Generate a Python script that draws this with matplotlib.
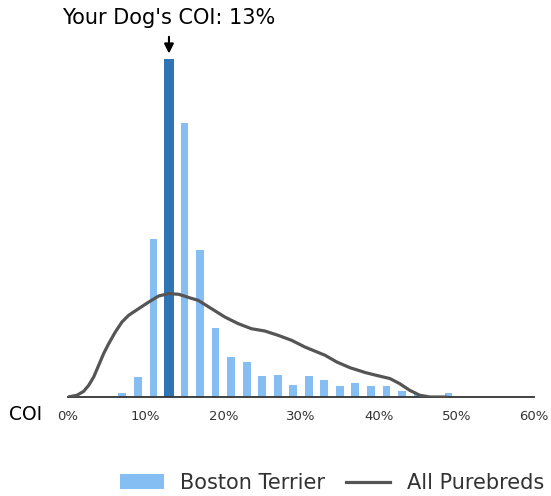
import numpy as np
import matplotlib
matplotlib.use("Agg")
import matplotlib.pyplot as plt
from matplotlib.patches import Patch
from matplotlib.lines import Line2D

# Boston Terrier COI distribution (bin centres in %, share of dogs in %)
bin_centers = [7, 9, 11, 13, 15, 17, 19, 21, 23, 25, 27, 29, 31, 33, 35, 37,
               39, 41, 43, 45, 47, 49]
breed_share = [0.3, 1.6, 12.8, 27.3, 22.1, 11.9, 5.6, 3.2, 2.8, 1.7, 1.8, 1.0,
               1.7, 1.4, 0.9, 1.1, 0.9, 0.9, 0.5, 0.25, 0.0, 0.3]

# all purebreds, density curve (scaled to the same axis)
all_x = [0, 1.15, 2.02, 2.67, 3.31, 3.95, 4.59, 5.24, 6.09, 6.95, 7.81, 9.10,
         10.39, 11.67, 12.96, 14.25, 15.74, 16.76, 18.47, 20.2, 21.9, 23.6,
         25.35, 27.07, 28.79, 30.5, 33.1, 34.6, 36.3, 38.3, 39.7, 41.45,
         42.7, 44.0, 45.3, 46.6, 48.7]
all_y = [0, 0.14, 0.46, 0.95, 1.62, 2.56, 3.51, 4.31, 5.25, 6.06, 6.60, 7.14,
         7.67, 8.16, 8.35, 8.30, 8.00, 7.81, 7.14, 6.46, 5.93, 5.52, 5.33,
         4.98, 4.58, 4.04, 3.37, 2.83, 2.37, 1.97, 1.75, 1.49, 1.08, 0.54,
         0.14, 0, 0]

dog_coi = 13
xticks = [0, 10, 20, 30, 40, 50, 60]

light_blue = "#85bef3"
dark_blue = "#2f74b5"
curve_col = "#555555"
text_col = "#333333"

fig = plt.figure(figsize=(5.51, 4.96), dpi=100)
ax = fig.add_axes([68 / 551, 99 / 496, 466 / 551, 367 / 496])

colors = [dark_blue if c == dog_coi else light_blue for c in bin_centers]
widths = [1.3 if c == dog_coi else 1.0 for c in bin_centers]
ax.bar(bin_centers, breed_share, width=widths, color=colors, zorder=2)
ax.plot(all_x, all_y, color=curve_col, lw=2.3, solid_capstyle="round",
        solid_joinstyle="round", zorder=3)

ax.set_xlim(0, 60)
ax.set_ylim(0, 29.65)
ax.set_xticks(xticks)
ax.set_xticklabels([f"{t}%" for t in xticks], fontsize=9.5, color=text_col)
ax.tick_params(axis="x", length=0, pad=9)
ax.set_yticks([])
for s in ["top", "right", "left"]:
    ax.spines[s].set_visible(False)
ax.spines["bottom"].set_color(text_col)
ax.spines["bottom"].set_linewidth(1.3)

# marker for this dog
peak = breed_share[bin_centers.index(dog_coi)]
ax.annotate("", xy=(dog_coi, peak + 0.45), xytext=(dog_coi, peak + 1.8),
            arrowprops=dict(arrowstyle="-|>", color="black", lw=1.5,
                            mutation_scale=14, shrinkA=0, shrinkB=0))
ax.text(dog_coi, 30.6, f"Your Dog's COI: {dog_coi}%", ha="center",
        va="center", fontsize=15, color="black")

fig.text(42 / 551, 1 - 415 / 496, "COI", ha="right", va="center",
         fontsize=13.5, color="black")

handles = [Patch(facecolor=light_blue, edgecolor="none"),
           Line2D([0], [0], color=curve_col, lw=2.3)]
fig.legend(handles, ["Boston Terrier", "All Purebreds"], loc="center",
           bbox_to_anchor=(332 / 551, 1 - 483 / 496), ncol=2, frameon=False,
           fontsize=15, handlelength=2.1, handleheight=0.7,
           handletextpad=0.8, columnspacing=1.0, labelcolor=text_col)

fig.savefig("out.png", dpi=100)
